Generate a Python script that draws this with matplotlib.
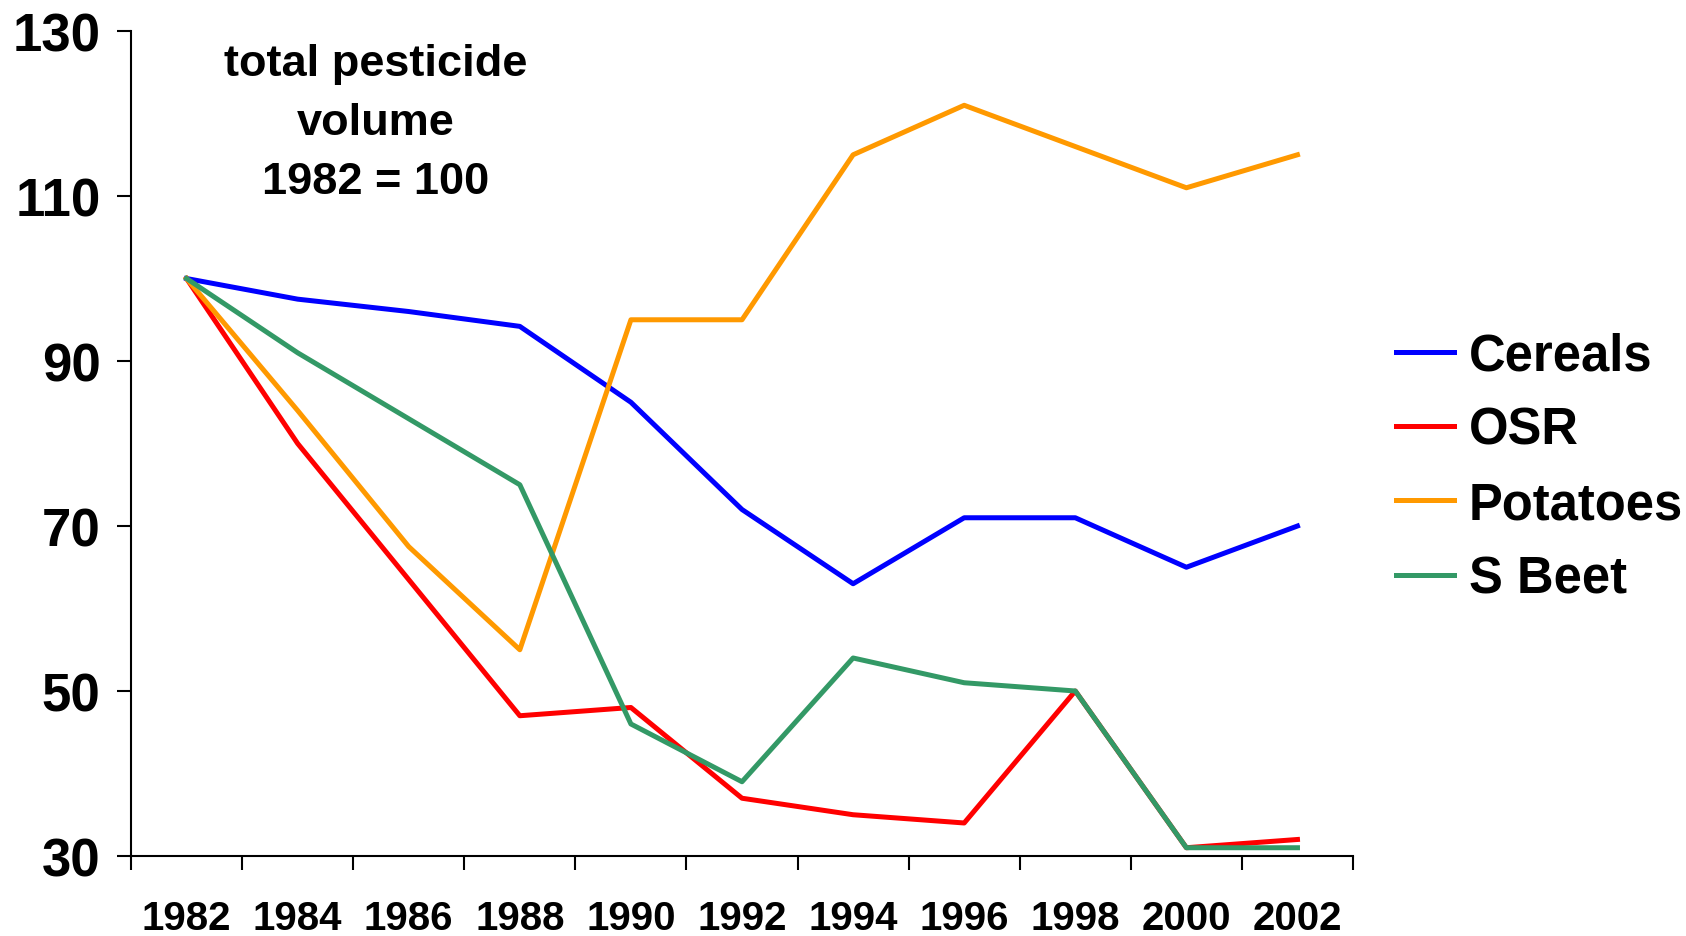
import numpy as np
import matplotlib
matplotlib.use("Agg")
import matplotlib.pyplot as plt

# pesticide volume index, 1982 = 100
years = ["1982", "1984", "1986", "1988", "1990", "1992",
         "1994", "1996", "1998", "2000", "2002"]
cereals = [100, 97.5, 96, 94.2, 85, 72, 63, 71, 71, 65, 70]
osr = [100, 80, 63.5, 47, 48, 37, 35, 34, 50, 31, 32]
potatoes = [100, 84, 67.5, 55, 95, 95, 115, 121, 116, 111, 115]
sbeet = [100, 91, 83, 75, 46, 39, 54, 51, 50, 31, 31]

series_names = ["Cereals", "OSR", "Potatoes", "S Beet"]
colors = ["#0000ff", "#ff0000", "#ff9900", "#339966"]

plt.rcParams['font.family'] = ['Liberation Sans', 'DejaVu Sans']
plt.rcParams['font.weight'] = 'bold'

fig = plt.figure(figsize=(16.86, 9.37), dpi=100)
ax = fig.add_axes([0.0777, 0.0854, 0.8025 - 0.0777, 0.9658 - 0.0854])

x = np.arange(len(years))
for vals, name, col in zip([cereals, osr, potatoes, sbeet], series_names, colors):
    ax.plot(x, vals, color=col, lw=3.6, label=name)

ax.set_xlim(-0.5, len(years) - 0.5)
ax.set_ylim(30, 130)
ax.set_yticks(np.arange(30, 131, 20))
ax.tick_params(axis='y', length=10, width=1.5, pad=12, labelsize=38)

# tick marks between categories, labels at category centres
ax.set_xticks(np.arange(-0.5, len(years)), labels=[])
ax.set_xticks(x, labels=years, minor=True)
ax.tick_params(axis='x', which='major', length=10, width=1.5)
ax.tick_params(axis='x', which='minor', length=0, pad=31, labelsize=29)

for lbl in ax.get_xticklabels(minor=True) + ax.get_yticklabels():
    lbl.set_fontweight('bold')

for s in ['top', 'right']:
    ax.spines[s].set_visible(False)
for s in ['left', 'bottom']:
    ax.spines[s].set_linewidth(1.5)

fig.text(0.223, 0.868, "total pesticide\nvolume\n1982 = 100", ha='center', va='center',
         fontsize=32.5, fontweight='bold', linespacing=1.56)

leg = fig.legend(loc='center left', bbox_to_anchor=(0.801, 0.50), frameon=False,
                 fontsize=36.5, handlelength=1.15, handletextpad=0.28, labelspacing=0.5)
for t in leg.get_texts():
    t.set_fontweight('bold')

fig.savefig("out.png", dpi=100)
